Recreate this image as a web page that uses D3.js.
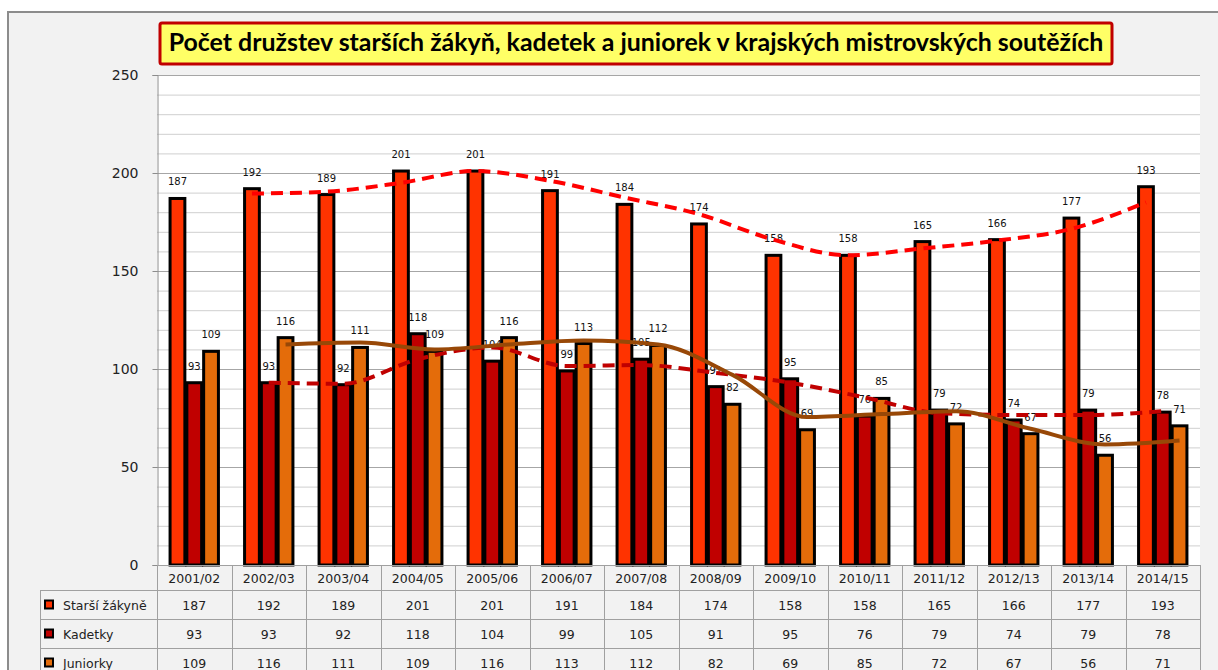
<!DOCTYPE html>
<html><head><meta charset="utf-8">
<script src="https://cdn.jsdelivr.net/npm/d3@7"></script>
<style>body{margin:0;background:#fff;}svg{display:block;}</style>
</head><body>
<svg id="c" width="1218" height="670"></svg>
<script>
const categories = ["2001/02","2002/03","2003/04","2004/05","2005/06","2006/07","2007/08","2008/09","2009/10","2010/11","2011/12","2012/13","2013/14","2014/15"];
const seriesNames = ["Starší žákyně","Kadetky","Juniorky"];
const starsi = [187,192,189,201,201,191,184,174,158,158,165,166,177,193];
const kadetky = [93,93,92,118,104,99,105,91,95,76,79,74,79,78];
const juniorky = [109,116,111,109,116,113,112,82,69,85,72,67,56,71];
const yTicks = [0,50,100,150,200,250];
const titleText = "Počet družstev starších žákyň, kadetek a juniorek v krajských mistrovských soutěžích";

const barColors = ["#ff3300","#c00000","#e46c0a"];
const trendColors = ["#ff0000","#c00000","#984807"];
const trendDash = ["12,7","12,7",null];
const seriesData = [starsi, kadetky, juniorky];

const svg = d3.select("#c");
const L = 157, R = 1200, T = 75, B = 565;
const font = "'DejaVu Sans', Verdana, sans-serif";

// chart background
svg.append("rect").attr("x",8).attr("y",12).attr("width",1300).attr("height",700)
  .attr("fill","#f2f2f2").attr("stroke","#8c8c8c").attr("stroke-width",2);

const x = d3.scaleBand().domain(categories).range([L,R]);
const bw = x.bandwidth();
const x1 = d3.scaleBand().domain(seriesNames).range([bw/2-bw*0.338, bw/2+bw*0.338]).padding(0);
const y = d3.scaleLinear().domain([0,250]).range([B,T]);

// plot area
svg.append("rect").attr("x",L).attr("y",T).attr("width",R-L).attr("height",B-T).attr("fill","#fff");

// gridlines
const minor = d3.range(10,250,10).filter(v=>v%50!==0);
svg.append("g").selectAll("line").data(minor).join("line")
  .attr("x1",L).attr("x2",R).attr("y1",d=>y(d)+0.5).attr("y2",d=>y(d)+0.5)
  .attr("stroke","#cfcfcf").attr("stroke-width",1);
svg.append("g").selectAll("line").data(yTicks.filter(d=>d>0)).join("line")
  .attr("x1",L).attr("x2",R).attr("y1",d=>y(d)+0.5).attr("y2",d=>y(d)+0.5)
  .attr("stroke","#a6a6a6").attr("stroke-width",1);

// y axis
const yAxis = d3.axisLeft(y).tickValues(yTicks).tickSize(5).tickPadding(14);
const gy = svg.append("g").attr("transform",`translate(${L+0.5},0)`).call(yAxis);
gy.select(".domain").attr("stroke","#8c8c8c");
gy.selectAll(".tick line").attr("stroke","#8c8c8c");
gy.selectAll(".tick text").attr("font-family",font).attr("font-size",14).attr("fill","#222");

// bars
const groups = svg.append("g").selectAll("g").data(seriesNames).join("g");
groups.each(function(name,si){
  d3.select(this).selectAll("rect").data(seriesData[si]).join("rect")
    .attr("x",(d,i)=>x(categories[i])+x1(name)+1)
    .attr("y",d=>y(d))
    .attr("width",x1.bandwidth()-2)
    .attr("height",d=>B-y(d))
    .attr("fill",barColors[si]).attr("stroke","#000").attr("stroke-width",3);
});

// data labels
groups.each(function(name,si){
  d3.select(this).selectAll("text").data(seriesData[si]).join("text")
    .attr("x",(d,i)=>x(categories[i])+x1(name)+x1.bandwidth()/2)
    .attr("y",d=>y(d)-13)
    .attr("text-anchor","middle").attr("font-family",font).attr("font-size",10).attr("fill","#111")
    .text(d=>d);
});

// moving average trendlines (period 2)
seriesData.forEach((arr,si)=>{
  const pts = arr.map((v,i)=> i===0?null:[x(categories[i])+x1(seriesNames[si])+x1.bandwidth()/2,(arr[i]+arr[i-1])/2]).filter(Boolean);
  const line = d3.line().x(d=>d[0]).y(d=>y(d[1])).curve(d3.curveMonotoneX);
  svg.append("path").attr("d",line(pts)).attr("fill","none")
    .attr("stroke",trendColors[si]).attr("stroke-width",4)
    .attr("stroke-dasharray",trendDash[si]).attr("stroke-linecap","butt");
});

// data table
const rowTop = [565,590,619,648,677];
const tg = svg.append("g");
// horizontal lines
tg.append("line").attr("x1",L).attr("x2",R).attr("y1",B+0.5).attr("y2",B+0.5).attr("stroke","#a0a0a0");
[590,619,648].forEach(yy=>tg.append("line").attr("x1",40).attr("x2",R).attr("y1",yy+0.5).attr("y2",yy+0.5).attr("stroke","#a0a0a0"));
// vertical lines
const vx = categories.map(c=>x(c)).concat([R]);
tg.selectAll("line.v").data(vx).join("line").attr("class","v")
  .attr("x1",d=>Math.round(d)+0.5).attr("x2",d=>Math.round(d)+0.5).attr("y1",B).attr("y2",670)
  .attr("stroke","#a0a0a0");
tg.append("line").attr("x1",40.5).attr("x2",40.5).attr("y1",590).attr("y2",670).attr("stroke","#a0a0a0");
// header
tg.selectAll("text.h").data(categories).join("text").attr("class","h")
  .attr("x",d=>x(d)+bw/2).attr("y",(565+590)/2+5)
  .attr("text-anchor","middle").attr("font-family",font).attr("font-size",12.5).attr("fill","#222").text(d=>d);
// rows
seriesNames.forEach((name,si)=>{
  const cy = (rowTop[si+1]+rowTop[si+2])/2;
  tg.append("rect").attr("x",45).attr("y",cy-4).attr("width",8).attr("height",8)
    .attr("fill",barColors[si]).attr("stroke","#000").attr("stroke-width",2);
  tg.append("text").attr("x",63).attr("y",cy+5).attr("font-family",font).attr("font-size",12.5).attr("fill","#222").text(name);
  tg.selectAll(null).data(seriesData[si]).join("text")
    .attr("x",(d,i)=>x(categories[i])+bw/2).attr("y",cy+5)
    .attr("text-anchor","middle").attr("font-family",font).attr("font-size",12.5).attr("fill","#222").text(d=>d);
});

// title
svg.append("rect").attr("x",160).attr("y",23).attr("width",952).attr("height",41)
  .attr("fill","#ffff66").attr("stroke","#c00000").attr("stroke-width",3).attr("rx",2);
const tt = svg.append("text").attr("x",636).attr("y",51).attr("text-anchor","middle")
  .attr("font-family","Lato, 'Open Sans', sans-serif").attr("font-weight","bold").attr("font-size",21).attr("fill","#000")
  .text(titleText);
const len = tt.node().getComputedTextLength();
tt.attr("font-size", 21*935/len);
</script>
</body></html>
